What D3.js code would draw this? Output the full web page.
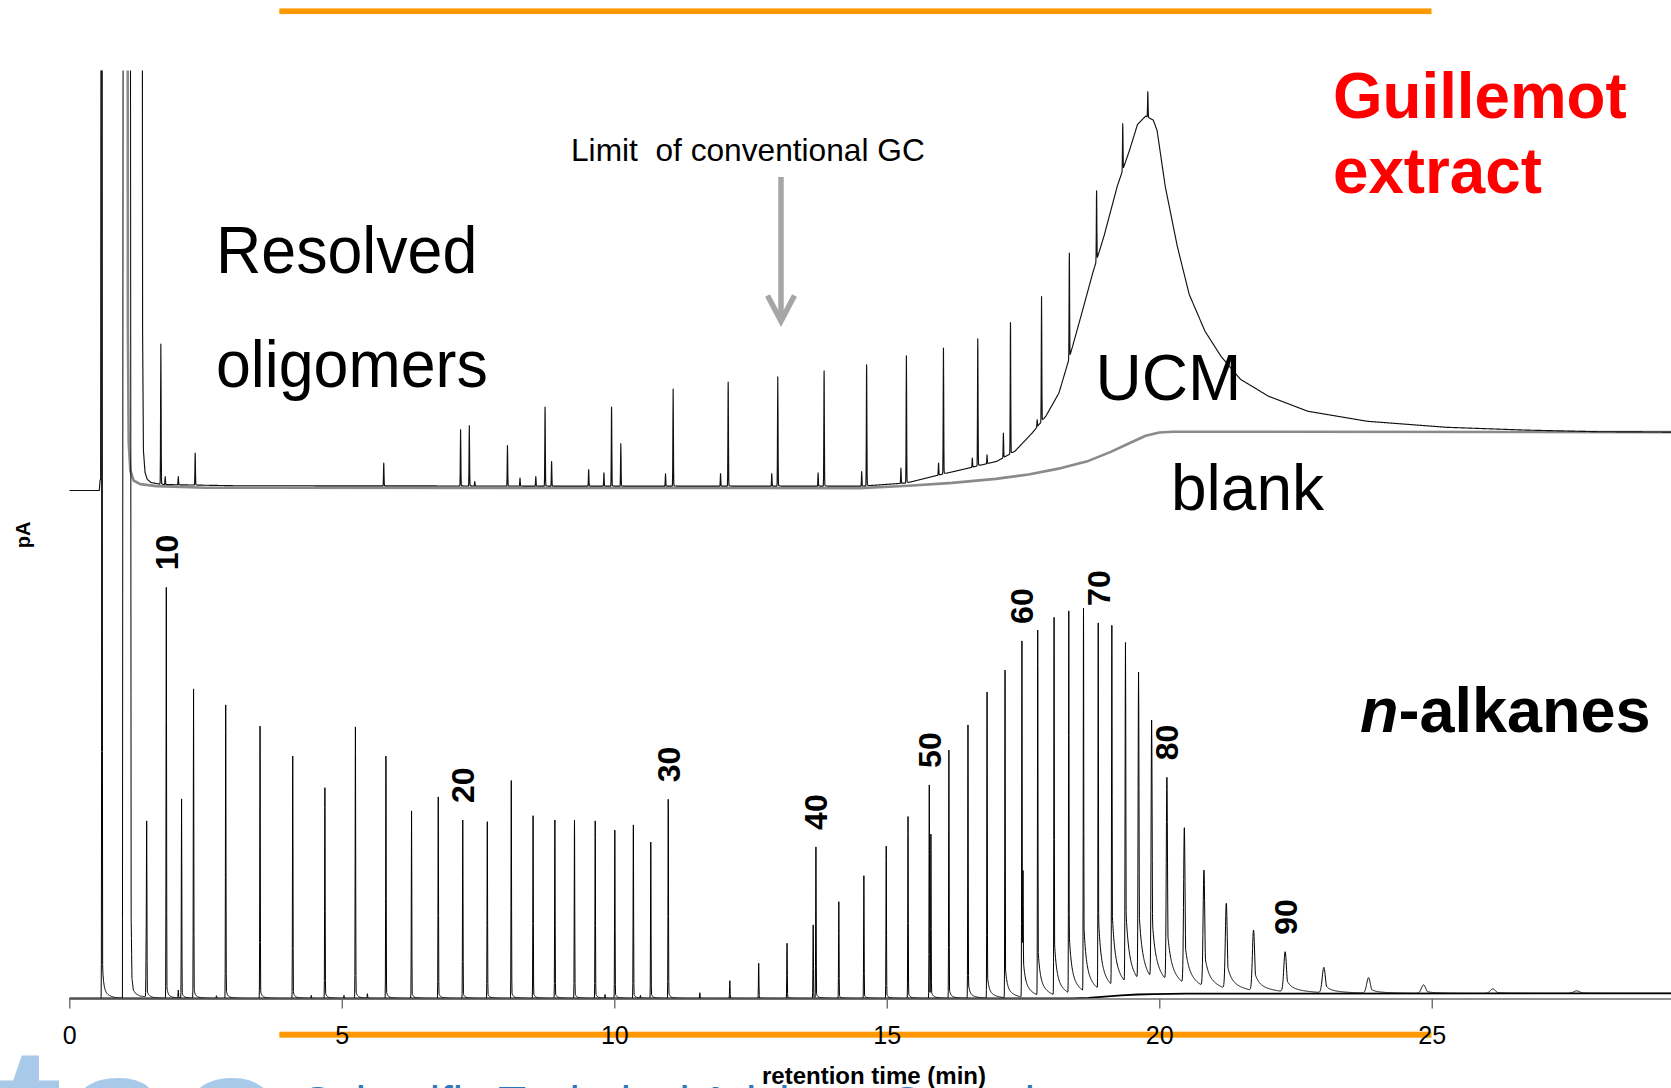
<!DOCTYPE html>
<html>
<head>
<meta charset="utf-8">
<script src="https://cdn.jsdelivr.net/npm/d3@7"></script>
<style>
  html, body { margin: 0; padding: 0; background: #fff; }
  svg { display: block; }
  text { font-family: "Liberation Sans", Arial, Helvetica, sans-serif; }
</style>
</head>
<body>
<svg id="chart" width="1671" height="1088"></svg>
<script>
// ---------------- data ----------------
const tickValues = [0, 5, 10, 15, 20, 25];

// Upper chromatogram (Guillemot extract), stacked by this many pA
const extractOffset = 127;

// Extract: solvent front and unresolved complex mixture hump (min, pA)
const extractHumpTime  = [0, 0.55, 0.565, 0.575, 0.59, 1.33, 1.345, 1.36, 1.39, 1.43, 1.5, 1.7, 3.0, 9.0, 14.55, 15.37, 15.87, 16.53, 17.02, 17.35, 17.67, 17.92, 18.16, 18.36, 18.58, 18.78, 18.99, 19.23, 19.46, 19.60, 19.75, 19.89, 19.96, 20.11, 20.33, 20.55, 20.84, 21.13, 21.49, 22.0, 22.73, 23.82, 25.27, 26.73, 28.03, 29.39];
const extractHumpValue = [0, 0, 2.5, 3, 300, 300, 40, 10, 4.5, 2.8, 2.0, 1.5, 1.2, 1.1, 1.1, 1.9, 3.6, 5.7, 7.3, 9.8, 14.4, 18.6, 24.4, 33.6, 44.4, 54.4, 63.8, 76.1, 85.3, 91.5, 93.6, 92.6, 90.0, 76.0, 61.1, 49, 39.8, 33.6, 27.8, 23.6, 19.8, 17.3, 15.8, 15.1, 14.7, 14.6];

// Extract: resolved oligomer peaks (retention time, apex pA)
const extractPeakTime = [1.68, 1.76, 2.00, 2.31, 5.77, 7.18, 7.34, 7.44, 8.04, 8.27, 8.56, 8.73, 8.85, 9.53, 9.81, 9.95, 10.12, 10.94, 11.08, 11.95, 12.09, 12.89, 13.00, 13.74, 13.85, 14.54, 14.63, 15.26, 15.36, 15.95, 16.04, 16.57, 16.67, 16.84, 17.14, 17.27, 17.76, 17.84, 18.35, 18.85, 19.33, 19.79];
const extractPeakApex = [36.6, 3.5, 3.5, 9.35, 6.85, 15.2, 16.2, 2.25, 11.25, 3.1, 3.5, 20.85, 7.25, 5.2, 4.4, 20.85, 11.7, 4.2, 25.35, 4.2, 27.1, 4.2, 28.4, 4.4, 29.9, 4.75, 31.4, 5.6, 33.7, 6.85, 35.6, 8.1, 37.9, 8.9, 14.35, 42, 17.7, 48.5, 59.35, 74.9, 91.7, 99.7];

// Blank run (upper chromatogram)
const blankTime  = [1.0, 1.065, 1.075, 1.09, 1.12, 1.18, 1.3, 1.6, 2.5, 14.5, 15.4, 16.2, 17.0, 17.6, 18.2, 18.7, 19.1, 19.45, 19.75, 20.0, 20.25, 29.39];
const blankValue = [300, 300, 40, 12, 5, 2.5, 1.6, 1.1, 0.7, 0.6, 1.2, 1.9, 2.9, 4.0, 5.6, 7.4, 9.6, 11.8, 13.7, 14.5, 14.7, 14.6];

// Lower chromatogram (n-alkane standard): solvent and column bleed
const alkaneBaseTime  = [0, 0.975, 0.99, 1.12, 1.135, 1.15, 1.175, 1.22, 1.30, 1.42, 1.55, 1.8, 18.4, 18.7, 19.0, 19.3, 19.6, 19.9, 20.5, 29.39];
const alkaneBaseValue = [0, 0, 300, 300, 20, 5, 2.1, 1.2, 0.6, 0.45, 0.1, 0, 0, 0.15, 0.45, 0.8, 1.0, 1.1, 1.2, 1.3];
const bleedTime  = [0, 18.4, 18.7, 19.0, 19.3, 19.6, 19.9, 20.5, 29.39];
const bleedValue = [0, 0, 0.15, 0.45, 0.8, 1.0, 1.1, 1.2, 1.3];

// n-alkane peaks (retention time, apex pA)
const alkanePeakTime = [0.60, 1.41, 1.42, 1.78, 2.00, 2.06, 2.28, 2.70, 2.87, 3.50, 4.10, 4.44, 4.69, 5.04, 5.25, 5.47, 5.81, 6.28, 6.77, 7.22, 7.67, 8.11, 8.51, 8.91, 9.27, 9.65, 9.83, 10.01, 10.35, 10.48, 10.67, 10.99, 11.57, 12.12, 12.65, 13.17, 13.65, 13.70, 14.12, 14.58, 14.99, 15.39, 15.78, 15.81, 16.14, 16.49, 16.84, 17.17, 17.48, 17.50, 17.77, 18.07, 18.34, 18.61, 18.88, 19.13, 19.38, 19.62, 19.86, 20.14, 20.46, 20.82, 21.23, 21.73, 22.31, 23.02, 23.84, 24.85, 26.12, 27.66];
const alkanePeakApex = [300, 15.5, 44.4, 102.8, 2.1, 49.9, 77.4, 0.7, 73.4, 68.1, 60.6, 0.8, 52.7, 0.8, 67.9, 1.2, 60.6, 46.9, 50.4, 44.6, 44.2, 54.5, 45.7, 44.6, 44.6, 44.4, 1.0, 42.1, 43.4, 0.8, 39.1, 49.8, 1.45, 4.45, 8.8, 13.8, 18.4, 37.9, 24.2, 30.7, 38.1, 45.5, 53.4, 41.1, 62.1, 68.4, 76.6, 82.1, 89.4, 32, 92.1, 95.3, 96.9, 97.6, 93.9, 93.3, 89.0, 81.6, 69.6, 55.3, 42.7, 32.1, 23.8, 17.1, 11.7, 7.8, 5.2, 3.4, 2.4, 1.9];

// Carbon-number labels and the peaks they sit on
const carbonNumbers  = [10, 20, 30, 40, 50, 60, 70, 80, 90];
const carbonPeakTime = [1.78, 7.22, 10.99, 13.70, 15.78, 17.48, 18.88, 20.14, 22.31];

// ---------------- layout ----------------
const W = 1671, H = 1088;
const svg = d3.select("#chart");
const x = d3.scaleLinear().domain([0, 29.39]).range([69.3, 1671]);
const y = d3.scaleLinear().domain([0, 232]).range([998.5, 70.5]);

// ---------------- footer logo ----------------
svg.append("text").text("tac")
  .attr("x", -4).attr("y", 1186)
  .attr("font-size", 200).attr("font-weight", "bold")
  .attr("fill", "#a9c9e9");
svg.append("text").text("Scientific Technical Advisory Committee")
  .attr("x", 302).attr("y", 1119)
  .attr("font-size", 46).attr("fill", "#2a78be");

// ---------------- orange rules ----------------
svg.append("rect").attr("x", 279.3).attr("y", 8.4).attr("width", 1152.2).attr("height", 5.7).attr("fill", "#ff9900");
svg.append("rect").attr("x", 279.3).attr("y", 1031.7).attr("width", 1152.2).attr("height", 6).attr("fill", "#ff9900");

// ---------------- trace construction ----------------
// peak profile: gaussian front, exponential tailing at the back
function profile(p, t) {
  const dt = t - p.t;
  if (dt < 0) {
    if (dt < -7 * p.s) return 0;
    return p.amp * Math.exp(-0.5 * (dt / p.s) * (dt / p.s));
  }
  if (dt > 10 * p.t2 && dt > 10 * p.t1 && dt > 7 * p.s) return 0;
  const g = Math.exp(-0.5 * (dt / p.s) * (dt / p.s));
  const tail = p.a1 * Math.exp(-dt / p.t1) + p.a2 * Math.exp(-dt / p.t2);
  return p.amp * Math.max(g, tail);
}

function buildTrace(baseT, baseV, peakT, peakApex, shapeOf) {
  const base = d3.scaleLinear().domain(baseT).range(baseV).clamp(true);
  const peaks = peakT.map((t, i) => Object.assign({ t, amp: Math.max(0, peakApex[i] - base(t)) }, shapeOf(t)));
  const total = t => base(t) + d3.sum(peaks, p => profile(p, t));
  // settle amplitudes so each apex lands on its listed value
  for (let k = 0; k < 4; k++) {
    peaks.forEach((p, i) => { p.amp = Math.max(0, p.amp + (peakApex[i] - total(p.t))); });
  }
  const step = 0.004;
  let ts = d3.range(0, x.domain()[1] + step / 2, step).concat(peakT, baseT);
  ts = Array.from(new Set(ts.map(t => +t.toFixed(5)))).sort(d3.ascending);
  return ts.map(t => [t, total(t)]);
}

const extractShape = () => ({ s: 0.0045, a1: 0.02, t1: 0.015, a2: 0, t2: 0.1 });
const alkaneShape = t => {
  const k = Math.max(0, Math.min(1, (t - 16) / 6));
  return {
    s: 0.0045 + Math.max(0, t - 19) * 0.006,
    a1: 0.03 + 0.22 * k, t1: 0.02 + 0.05 * k,
    a2: 0.01 + 0.13 * k, t2: 0.1 + 0.25 * k
  };
};

const extractTrace = buildTrace(extractHumpTime, extractHumpValue, extractPeakTime, extractPeakApex, extractShape);
const alkaneTrace  = buildTrace(alkaneBaseTime, alkaneBaseValue, alkanePeakTime, alkanePeakApex, alkaneShape);
const blankTrace   = blankTime.map((t, i) => [t, blankValue[i]]);
const bleedTrace   = bleedTime.map((t, i) => [t, bleedValue[i]]);

// ---------------- plot ----------------
svg.append("clipPath").attr("id", "plotClip")
  .append("rect").attr("x", x(0)).attr("y", y(232)).attr("width", W - x(0)).attr("height", y(0) - y(232) + 2);

const plot = svg.append("g").attr("clip-path", "url(#plotClip)");
const lineAt = off => d3.line().x(d => x(d[0])).y(d => y(off + d[1]));

plot.append("path").datum(blankTrace)
  .attr("d", lineAt(extractOffset))
  .attr("fill", "none").attr("stroke", "#8a8a8a").attr("stroke-width", 2.6).attr("stroke-linejoin", "round");
plot.append("path").datum(extractTrace)
  .attr("d", lineAt(extractOffset))
  .attr("fill", "none").attr("stroke", "#111").attr("stroke-width", 1.15).attr("stroke-linejoin", "round");

// x axis
const axis = d3.axisBottom(x).tickValues(tickValues).tickSize(10).tickSizeOuter(0).tickFormat(d3.format("d"));
const gAxis = svg.append("g").attr("transform", `translate(0,${y(0)})`).call(axis);
gAxis.select(".domain").attr("stroke", "#6e6e6e").attr("stroke-width", 1.4);
gAxis.selectAll(".tick line").attr("stroke", "#6e6e6e").attr("stroke-width", 1.4);
gAxis.selectAll(".tick text")
  .attr("y", 45.5).attr("dy", null)
  .attr("font-size", 25).attr("fill", "#000")
  .attr("font-family", "'Liberation Sans', Arial, sans-serif");

plot.append("path").datum(bleedTrace)
  .attr("d", lineAt(0))
  .attr("fill", "none").attr("stroke", "#000").attr("stroke-width", 1.8);
plot.append("path").datum(alkaneTrace)
  .attr("d", lineAt(0))
  .attr("fill", "none").attr("stroke", "#000").attr("stroke-width", 1.0).attr("stroke-linejoin", "round");

// carbon-number labels
const apexOf = t => alkanePeakApex[alkanePeakTime.indexOf(t)];
svg.append("g").selectAll("text").data(carbonNumbers).join("text")
  .attr("transform", (d, i) => `translate(${x(carbonPeakTime[i]) + 11.5},${y(apexOf(carbonPeakTime[i])) - 17}) rotate(-90)`)
  .attr("font-size", 32).attr("font-weight", "bold").attr("fill", "#000")
  .text(d => d);

// axis titles
svg.append("text").text("retention time (min)")
  .attr("x", 874).attr("y", 1084).attr("text-anchor", "middle")
  .attr("font-size", 24).attr("font-weight", "bold").attr("fill", "#000");
svg.append("text").text("pA")
  .attr("transform", "translate(29.5,535) rotate(-90)").attr("text-anchor", "middle")
  .attr("font-size", 20).attr("font-weight", "bold").attr("fill", "#000");

// ---------------- annotations ----------------
function note(str, px, py, size, opts = {}) {
  return svg.append("text").text(str)
    .attr("transform", `translate(${px},${py}) scale(${opts.sx || 1},1)`)
    .attr("font-size", size)
    .attr("font-weight", opts.bold ? "bold" : "normal")
    .attr("fill", opts.fill || "#000")
    .style("white-space", "pre");
}
note("Limit  of conventional GC", 571, 161, 32, { sx: 0.99 });
note("Resolved", 216, 273, 66, { sx: 0.95 });
note("oligomers", 216, 387, 66, { sx: 0.95 });
note("UCM", 1095.5, 400, 64);
note("blank", 1171, 510, 64);
note("Guillemot", 1333, 118, 65, { bold: true, fill: "#ff0000", sx: 0.98 });
note("extract", 1333, 193, 65, { bold: true, fill: "#ff0000", sx: 0.98 });

const nAlk = svg.append("text").attr("transform", "translate(1360,732)")
  .attr("font-size", 63).attr("font-weight", "bold").attr("fill", "#000");
nAlk.append("tspan").attr("font-style", "italic").text("n");
nAlk.append("tspan").text("-alkanes");

// arrow marking the conventional GC limit
svg.append("path").attr("d", "M781,177 V318")
  .attr("stroke", "#a6a6a6").attr("stroke-width", 5.5).attr("fill", "none");
svg.append("path").attr("d", "M767.5,295.5 L781,321 L794.5,295.5")
  .attr("stroke", "#a6a6a6").attr("stroke-width", 5.5).attr("fill", "none").attr("stroke-linejoin", "miter");
</script>
</body>
</html>
